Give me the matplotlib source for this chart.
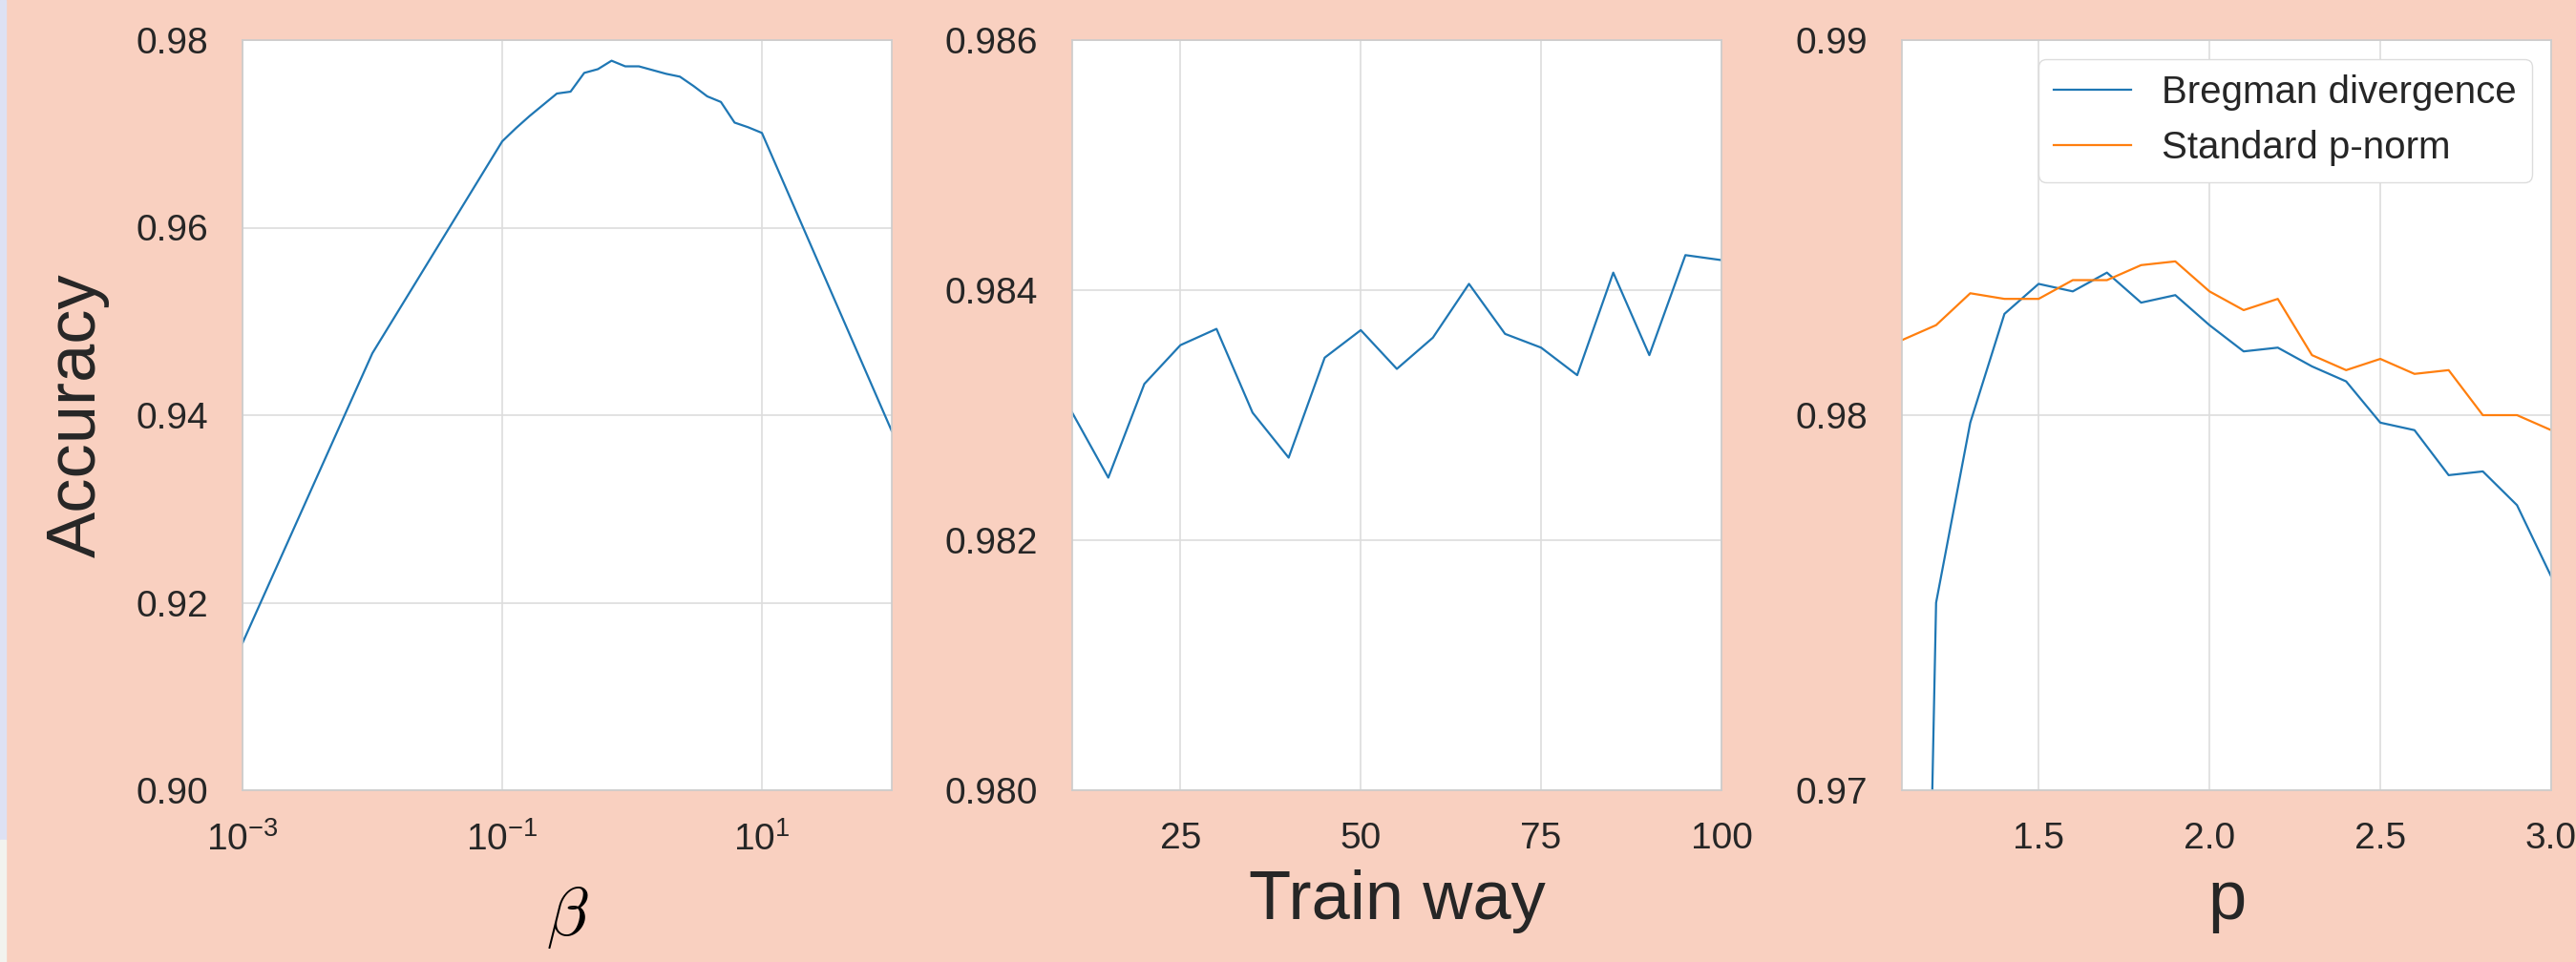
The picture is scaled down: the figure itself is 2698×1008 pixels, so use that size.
import matplotlib
matplotlib.use("Agg")
import matplotlib.pyplot as plt
from matplotlib.patches import Rectangle
from matplotlib.ticker import FixedLocator, NullLocator

# ---- data -------------------------------------------------------------
beta = [0.001, 0.01, 0.1, 0.1274, 0.1624, 0.2069, 0.2637, 0.3360, 0.4281,
        0.5456, 0.6952, 0.8859, 1.1288, 1.4384, 1.8330, 2.3357, 2.9764,
        3.7927, 4.8329, 6.1585, 7.8476, 10.0, 100.0]
acc_beta = [0.9157, 0.9466, 0.9692, 0.9706, 0.9719, 0.9731, 0.9743, 0.9745,
            0.9765, 0.9769, 0.9778, 0.9772, 0.9772, 0.9768, 0.9764, 0.9761,
            0.9751, 0.9740, 0.9734, 0.9712, 0.9707, 0.9701, 0.9383]

train_way = [10, 15, 20, 25, 30, 35, 40, 45, 50, 55, 60, 65, 70, 75, 80,
             85, 90, 95, 100]
acc_way = [0.98302, 0.98250, 0.98325, 0.98356, 0.98369, 0.98302, 0.98266,
           0.98346, 0.98368, 0.98337, 0.98362, 0.98405, 0.98365, 0.98354,
           0.98332, 0.98414, 0.98348, 0.98428, 0.98424]

p_vals = [1.1, 1.2, 1.3, 1.4, 1.5, 1.6, 1.7, 1.8, 1.9, 2.0, 2.1, 2.2, 2.3,
          2.4, 2.5, 2.6, 2.7, 2.8, 2.9, 3.0]
acc_bregman = [0.9300, 0.9750, 0.9798, 0.9827, 0.9835, 0.9833, 0.9838,
               0.9830, 0.9832, 0.9824, 0.9817, 0.9818, 0.9813, 0.9809,
               0.9798, 0.9796, 0.9784, 0.9785, 0.9776, 0.9757]
acc_pnorm = [0.9820, 0.9824, 0.98325, 0.9831, 0.9831, 0.9836, 0.9836,
             0.9840, 0.9841, 0.9833, 0.9828, 0.9831, 0.9816, 0.9812,
             0.9815, 0.9811, 0.9812, 0.9800, 0.9800, 0.9796]

series_labels = ["Bregman divergence", "Standard p-norm"]

# ---- style ------------------------------------------------------------
plt.rcParams.update({
    "font.family": ["Liberation Sans", "DejaVu Sans"],
    "mathtext.fontset": "custom",
    "mathtext.rm": "Liberation Sans",
    "mathtext.it": "Liberation Sans:italic",
    "mathtext.bf": "Liberation Sans:bold",
    "mathtext.default": "regular",
})

BG = "#F9D0C0"
TEXT = "#262626"
BLUE = "#1f77b4"
ORANGE = "#ff7f0e"

W, H = 2698, 1008
fig = plt.figure(figsize=(W / 100, H / 100), dpi=100, facecolor=BG)

# thin strip along the left border
fig.patches.append(Rectangle((0, 128 / H), 6 / W, 880 / H, transform=fig.transFigure,
                             color="#DDE1F3", zorder=0))
fig.patches.append(Rectangle((0, 0), 6 / W, 128 / H, transform=fig.transFigure,
                             color="#F2F3EE", zorder=0))

ax_w, ax_h = 680 / W, 786 / H
ax_b = (H - 828) / H
lefts = [254 / W, 1123 / W, 1992 / W]
axes = [fig.add_axes([l, ax_b, ax_w, ax_h]) for l in lefts]


def style(ax):
    ax.set_facecolor("white")
    for s in ax.spines.values():
        s.set_color("#cccccc")
        s.set_linewidth(1.2)
    ax.grid(True, color="#dddddd", linewidth=1.2)
    ax.set_axisbelow(True)
    ax.tick_params(axis="both", length=0, labelsize=28, colors=TEXT)
    ax.tick_params(axis="x", pad=24)
    ax.tick_params(axis="y", pad=26)


LABEL_FS = 52
LW = 1.6

# beta sweep
ax = axes[0]
style(ax)
ax.plot(beta, acc_beta, color=BLUE, lw=LW)
ax.set_xscale("log")
ax.set_xlim(1e-3, 1e2)
ax.xaxis.set_major_locator(FixedLocator([1e-3, 1e-1, 1e1]))
ax.xaxis.set_minor_locator(NullLocator())
ax.set_ylim(0.90, 0.98)
ax.set_yticks([0.90, 0.92, 0.94, 0.96, 0.98])
ax.set_yticklabels(["0.90", "0.92", "0.94", "0.96", "0.98"])
ax.set_xlabel(r"$\mathit{\beta}$", fontsize=LABEL_FS, color="black", labelpad=20,
              math_fontfamily="cm")
ax.set_ylabel("Accuracy", fontsize=LABEL_FS, color=TEXT, labelpad=20)

# train way sweep
ax = axes[1]
style(ax)
ax.plot(train_way, acc_way, color=BLUE, lw=LW)
ax.set_xlim(10, 100)
ax.set_xticks([25, 50, 75, 100])
ax.set_ylim(0.980, 0.986)
ax.set_yticks([0.980, 0.982, 0.984, 0.986])
ax.set_yticklabels(["0.980", "0.982", "0.984", "0.986"])
ax.set_xlabel("Train way", fontsize=LABEL_FS, color=TEXT, labelpad=10)

# p sweep
ax = axes[2]
style(ax)
ax.plot(p_vals, acc_bregman, color=BLUE, lw=LW, label=series_labels[0])
ax.plot(p_vals, acc_pnorm, color=ORANGE, lw=LW, label=series_labels[1])
ax.set_xlim(1.1, 3.0)
ax.set_xticks([1.5, 2.0, 2.5, 3.0])
ax.set_xticklabels(["1.5", "2.0", "2.5", "3.0"])
ax.set_ylim(0.97, 0.99)
ax.set_yticks([0.97, 0.98, 0.99])
ax.set_yticklabels(["0.97", "0.98", "0.99"])
ax.set_xlabel("p", fontsize=LABEL_FS, color=TEXT, labelpad=10)
leg = ax.legend(loc="upper right", fontsize=29, frameon=True, fancybox=True,
                edgecolor="#dddddd", framealpha=1.0)
for t in leg.get_texts():
    t.set_color(TEXT)

fig.savefig("out.png", dpi=100, facecolor=BG)
